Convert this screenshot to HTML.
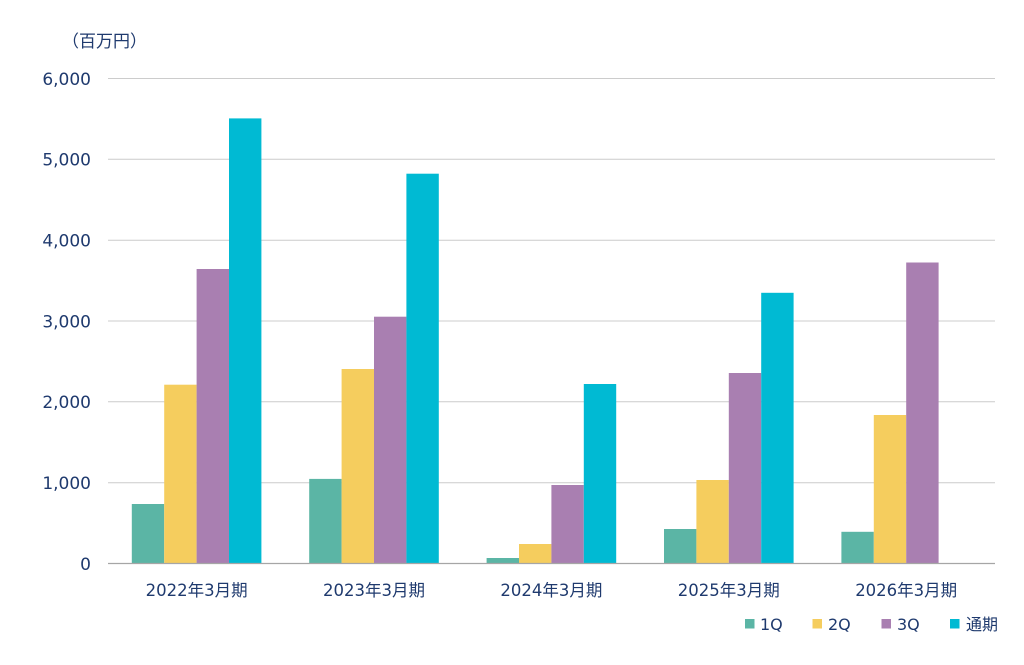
<!DOCTYPE html>
<html>
<head>
<meta charset="utf-8">
<style>
html,body{margin:0;padding:0;background:#fff;}
svg{display:block;}
text{font-family:"DejaVu Sans","Liberation Sans","Noto Sans CJK JP",sans-serif;fill:#1f3a6e;}
</style>
</head>
<body>
<svg width="1024" height="665" viewBox="0 0 1024 665" xmlns="http://www.w3.org/2000/svg">
  <rect width="1024" height="665" fill="#fff"/>
  <!-- unit label -->
  <text x="62" y="47" font-size="17">（百万円）</text>
  <!-- gridlines -->
  <g stroke="#cccccc" stroke-width="1">
    <line x1="108" y1="78.5" x2="995" y2="78.5"/>
    <line x1="108" y1="159.3" x2="995" y2="159.3"/>
    <line x1="108" y1="240.2" x2="995" y2="240.2"/>
    <line x1="108" y1="321" x2="995" y2="321"/>
    <line x1="108" y1="401.8" x2="995" y2="401.8"/>
    <line x1="108" y1="482.7" x2="995" y2="482.7"/>
  </g>
  <!-- y labels -->
  <g font-size="17" text-anchor="end">
    <text x="91" y="84.8">6,000</text>
    <text x="91" y="165.6">5,000</text>
    <text x="91" y="246.5">4,000</text>
    <text x="91" y="327.3">3,000</text>
    <text x="91" y="408.1">2,000</text>
    <text x="91" y="489">1,000</text>
    <text x="91" y="569.8">0</text>
  </g>
  <!-- bars -->
  <g>
    <!-- 2022 -->
    <rect x="131.8" y="504.0" width="32.4" height="59.0" fill="#5bb5a5"/>
    <rect x="164.2" y="384.7" width="32.4" height="178.3" fill="#f5cd5e"/>
    <rect x="196.6" y="269.0" width="32.4" height="294.0" fill="#a97fb1"/>
    <rect x="229.0" y="118.4" width="32.4" height="444.6" fill="#00bad3"/>
    <!-- 2023 -->
    <rect x="309.2" y="478.9" width="32.4" height="84.1" fill="#5bb5a5"/>
    <rect x="341.6" y="369.0" width="32.4" height="194.0" fill="#f5cd5e"/>
    <rect x="374.0" y="316.7" width="32.4" height="246.3" fill="#a97fb1"/>
    <rect x="406.4" y="173.7" width="32.4" height="389.3" fill="#00bad3"/>
    <!-- 2024 -->
    <rect x="486.6" y="558.0" width="32.4" height="5.0" fill="#5bb5a5"/>
    <rect x="519.0" y="544.0" width="32.4" height="19.0" fill="#f5cd5e"/>
    <rect x="551.4" y="485.0" width="32.4" height="78.0" fill="#a97fb1"/>
    <rect x="583.8" y="384.0" width="32.4" height="179.0" fill="#00bad3"/>
    <!-- 2025 -->
    <rect x="664.0" y="529.0" width="32.4" height="34.0" fill="#5bb5a5"/>
    <rect x="696.4" y="480.0" width="32.4" height="83.0" fill="#f5cd5e"/>
    <rect x="728.8" y="373.0" width="32.4" height="190.0" fill="#a97fb1"/>
    <rect x="761.2" y="292.8" width="32.4" height="270.2" fill="#00bad3"/>
    <!-- 2026 -->
    <rect x="841.4" y="531.8" width="32.4" height="31.2" fill="#5bb5a5"/>
    <rect x="873.8" y="415.0" width="32.4" height="148.0" fill="#f5cd5e"/>
    <rect x="906.2" y="262.5" width="32.4" height="300.5" fill="#a97fb1"/>
  </g>
  <!-- axis -->
  <line x1="108" y1="563.5" x2="995" y2="563.5" stroke="#a6a6a6" stroke-width="1.3"/>
  <!-- x labels -->
  <g font-size="16.5" text-anchor="middle">
    <text x="196.6" y="596">2022年3月期</text>
    <text x="374.0" y="596">2023年3月期</text>
    <text x="551.4" y="596">2024年3月期</text>
    <text x="728.8" y="596">2025年3月期</text>
    <text x="906.2" y="596">2026年3月期</text>
  </g>
  <!-- legend -->
  <g font-size="16">
    <rect x="745" y="619" width="9.5" height="9.5" fill="#5bb5a5"/>
    <text x="760" y="630">1Q</text>
    <rect x="812.5" y="619" width="9.5" height="9.5" fill="#f5cd5e"/>
    <text x="828" y="630">2Q</text>
    <rect x="881.5" y="619" width="9.5" height="9.5" fill="#a97fb1"/>
    <text x="897" y="630">3Q</text>
    <rect x="950" y="619" width="9.5" height="9.5" fill="#00bad3"/>
    <text x="966" y="630">通期</text>
  </g>
</svg>
</body>
</html>
